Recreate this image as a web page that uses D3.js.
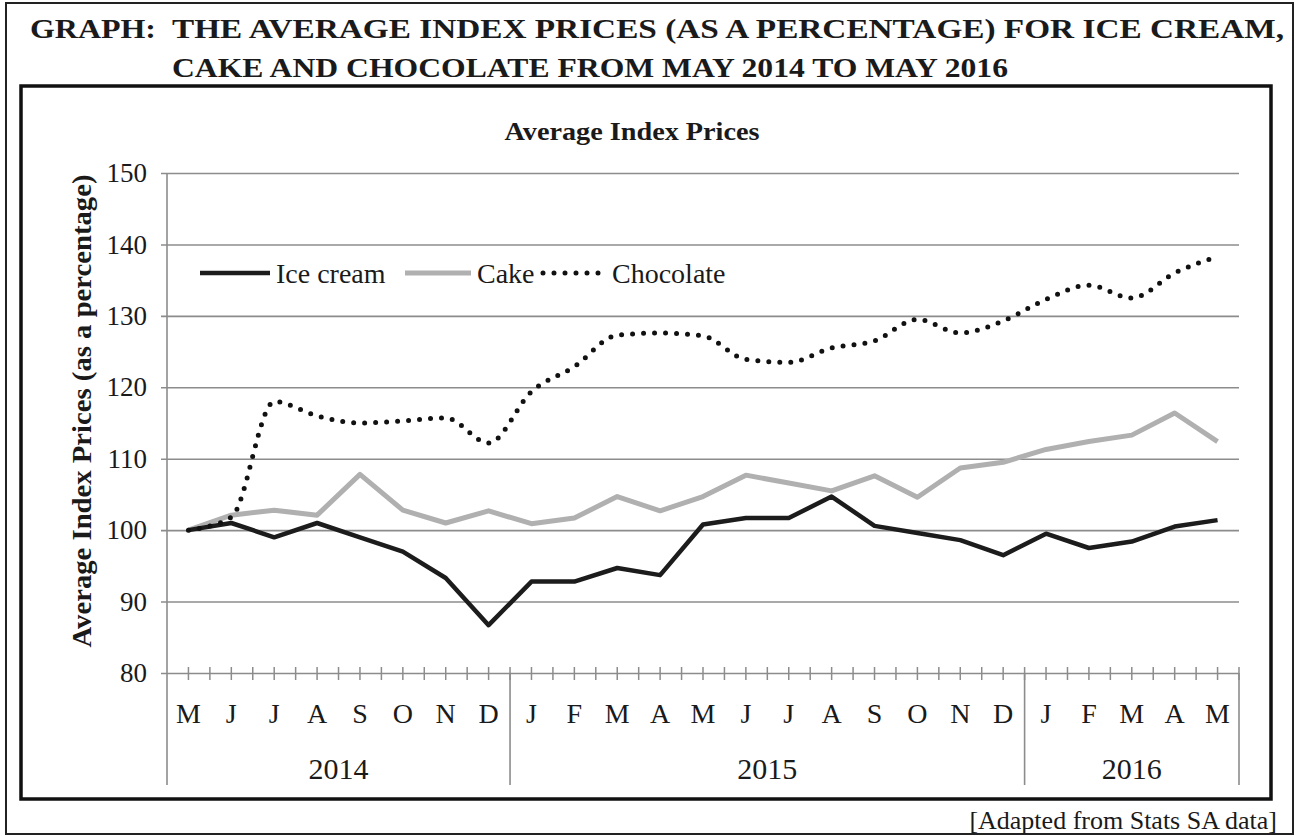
<!DOCTYPE html>
<html>
<head>
<meta charset="utf-8">
<script src="https://cdn.jsdelivr.net/npm/d3@7"></script>
<style>
  body { margin: 0; background: #fff; }
  svg { display: block; }
  text { font-family: "Liberation Serif", "Times New Roman", serif; fill: #1a1a1a; }
</style>
</head>
<body>
<script>
var months = ["M","J","J","A","S","O","N","D","J","F","M","A","M","J","J","A","S","O","N","D","J","F","M","A","M"];
var years = ["2014", "2015", "2016"];
var yearFirst = [0, 8, 20];
var yearLast = [7, 19, 24];
var yTicks = [80, 90, 100, 110, 120, 130, 140, 150];

var iceCream = [100, 101, 99, 101, 99, 97, 93.3, 86.7, 92.8, 92.8, 94.7, 93.7, 100.8, 101.7, 101.7, 104.7, 100.6, 99.6, 98.6, 96.5, 99.5, 97.5, 98.4, 100.5, 101.4];
var cake = [100, 102.1, 102.8, 102.1, 107.8, 102.8, 101, 102.7, 100.9, 101.7, 104.7, 102.7, 104.7, 107.7, 106.6, 105.5, 107.6, 104.6, 108.7, 109.5, 111.3, 112.4, 113.3, 116.4, 112.4];
var chocolate = [100, 101.8, 118, 116, 115, 115.3, 115.7, 112.2, 119.4, 122.9, 127.3, 127.6, 127.2, 123.9, 123.5, 125.5, 126.5, 129.5, 127.6, 129.3, 132.3, 134.3, 132.5, 136, 138.3];

var seriesNames = ["Ice cream", "Cake", "Chocolate"];

function init() {
  var w = 1302, h = 836;
  var left = 167, right = 1239, top = 173, bottom = 673;

  var svg = d3.select("body").append("svg")
    .attr("width", w)
    .attr("height", h);

  // frames
  svg.append("rect")
    .attr("x", 6).attr("y", 3).attr("width", 1287).attr("height", 831)
    .attr("fill", "none").attr("stroke", "#222").attr("stroke-width", 2);
  svg.append("rect")
    .attr("x", 21).attr("y", 86).attr("width", 1250).attr("height", 713)
    .attr("fill", "none").attr("stroke", "#111").attr("stroke-width", 3.5);

  // heading
  svg.append("text")
    .attr("x", 30).attr("y", 38)
    .attr("font-size", 27).attr("font-weight", "bold")
    .attr("textLength", 126).attr("lengthAdjust", "spacingAndGlyphs")
    .text("GRAPH:");
  svg.append("text")
    .attr("x", 172).attr("y", 38)
    .attr("font-size", 27).attr("font-weight", "bold")
    .attr("textLength", 1112).attr("lengthAdjust", "spacingAndGlyphs")
    .text("THE AVERAGE INDEX PRICES (AS A PERCENTAGE) FOR ICE CREAM,");
  svg.append("text")
    .attr("x", 172).attr("y", 77)
    .attr("font-size", 27).attr("font-weight", "bold")
    .attr("textLength", 836).attr("lengthAdjust", "spacingAndGlyphs")
    .text("CAKE AND CHOCOLATE FROM MAY 2014 TO MAY 2016");

  svg.append("text")
    .attr("x", 632).attr("y", 140)
    .attr("text-anchor", "middle")
    .attr("font-size", 26).attr("font-weight", "bold")
    .attr("textLength", 255).attr("lengthAdjust", "spacingAndGlyphs")
    .text("Average Index Prices");

  var x = d3.scaleBand()
    .domain(d3.range(months.length))
    .range([left, right])
    .padding(0);
  var bw = x.bandwidth();

  var y = d3.scaleLinear()
    .domain([80, 150])
    .range([bottom, top]);

  // y gridlines + labels
  var yAxis = d3.axisLeft(y)
    .tickValues(yTicks)
    .tickSize(-(right - left + 6))
    .tickPadding(14)
    .tickFormat(d3.format("d"));
  var gy = svg.append("g")
    .attr("transform", "translate(" + (left - 6) + ",0)")
    .call(yAxis);
  gy.select(".domain").remove();
  gy.selectAll("line").attr("stroke", "#8c8c8c").attr("stroke-width", 1.6);
  gy.selectAll("text")
    .attr("font-size", 27)
    .attr("font-family", "Liberation Serif, serif")
    .attr("fill", "#1a1a1a");

  // vertical axis line and year dividers
  var dividers = [left, x(yearFirst[1]), x(yearFirst[2]), right];
  svg.selectAll(".vdiv")
    .data(dividers)
    .enter().append("line")
    .attr("class", "vdiv")
    .attr("x1", function(d) { return d; })
    .attr("x2", function(d) { return d; })
    .attr("y1", function(d, i) { return i === 0 ? top : bottom; })
    .attr("y2", 785)
    .attr("stroke", "#8c8c8c").attr("stroke-width", 1.6);

  // minor ticks on x axis
  var tickPos = [];
  d3.range(months.length).forEach(function(i) {
    tickPos.push(x(i) + bw / 2);
    if (i > 0) tickPos.push(x(i));
  });
  tickPos.push(right);
  svg.selectAll(".xt")
    .data(tickPos)
    .enter().append("line")
    .attr("class", "xt")
    .attr("x1", function(d) { return d; })
    .attr("x2", function(d) { return d; })
    .attr("y1", bottom - 6)
    .attr("y2", bottom + 7)
    .attr("stroke", "#8c8c8c").attr("stroke-width", 1.5);

  // month labels
  var xAxis = d3.axisBottom(x)
    .tickSize(0)
    .tickPadding(30)
    .tickFormat(function(i) { return months[i]; });
  var gx = svg.append("g")
    .attr("transform", "translate(0," + bottom + ")")
    .call(xAxis);
  gx.select(".domain").remove();
  gx.selectAll("text")
    .attr("font-size", 28)
    .attr("font-family", "Liberation Serif, serif")
    .attr("fill", "#1a1a1a")
    .attr("dy", 0)
    .attr("y", 50);

  // year labels
  svg.selectAll(".year")
    .data(years)
    .enter().append("text")
    .attr("class", "year")
    .attr("x", function(d, i) { return (x(yearFirst[i]) + x(yearLast[i]) + bw) / 2; })
    .attr("y", 779)
    .attr("text-anchor", "middle")
    .attr("font-size", 30)
    .text(function(d) { return d; });

  // y axis title
  svg.append("text")
    .attr("transform", "translate(91,411) rotate(-90)")
    .attr("text-anchor", "middle")
    .attr("font-size", 27).attr("font-weight", "bold")
    .attr("textLength", 473).attr("lengthAdjust", "spacingAndGlyphs")
    .text("Average Index Prices (as a percentage)");

  // lines
  var straight = d3.line()
    .x(function(d, i) { return x(i) + bw / 2; })
    .y(function(d) { return y(d); });
  var smooth = d3.line()
    .x(function(d, i) { return x(i) + bw / 2; })
    .y(function(d) { return y(d); })
    .curve(d3.curveMonotoneX);

  svg.append("path")
    .datum(cake)
    .attr("d", straight)
    .attr("fill", "none")
    .attr("stroke", "#b0b0b0")
    .attr("stroke-width", 5)
    .attr("stroke-linejoin", "round");

  svg.append("path")
    .datum(iceCream)
    .attr("d", straight)
    .attr("fill", "none")
    .attr("stroke", "#1c1c1c")
    .attr("stroke-width", 4.5)
    .attr("stroke-linejoin", "round");

  svg.append("path")
    .datum(chocolate)
    .attr("d", smooth)
    .attr("fill", "none")
    .attr("stroke", "#111")
    .attr("stroke-width", 5)
    .attr("stroke-linecap", "round")
    .attr("stroke-dasharray", "0 11");

  // legend
  var legX = [200, 405, 540];
  var legLen = [70, 66, 66];
  var legStyle = [
    { stroke: "#1c1c1c", width: 4.5, dash: null, cap: "butt" },
    { stroke: "#b0b0b0", width: 5, dash: null, cap: "butt" },
    { stroke: "#111", width: 5, dash: "0 11", cap: "round" }
  ];
  var legY = 273;
  var lg = svg.append("g");
  seriesNames.forEach(function(name, i) {
    lg.append("line")
      .attr("x1", legX[i] + (i === 2 ? 3 : 0))
      .attr("x2", legX[i] + legLen[i])
      .attr("y1", legY).attr("y2", legY)
      .attr("stroke", legStyle[i].stroke)
      .attr("stroke-width", legStyle[i].width)
      .attr("stroke-linecap", legStyle[i].cap)
      .attr("stroke-dasharray", legStyle[i].dash);
    lg.append("text")
      .attr("x", legX[i] + legLen[i] + 6)
      .attr("y", legY + 10)
      .attr("font-size", 28)
      .text(name);
  });

  // source note
  svg.append("text")
    .attr("x", 1277).attr("y", 829)
    .attr("text-anchor", "end")
    .attr("font-size", 26)
    .text("[Adapted from Stats SA data]");
}

window.onload = init;
</script>
</body>
</html>
